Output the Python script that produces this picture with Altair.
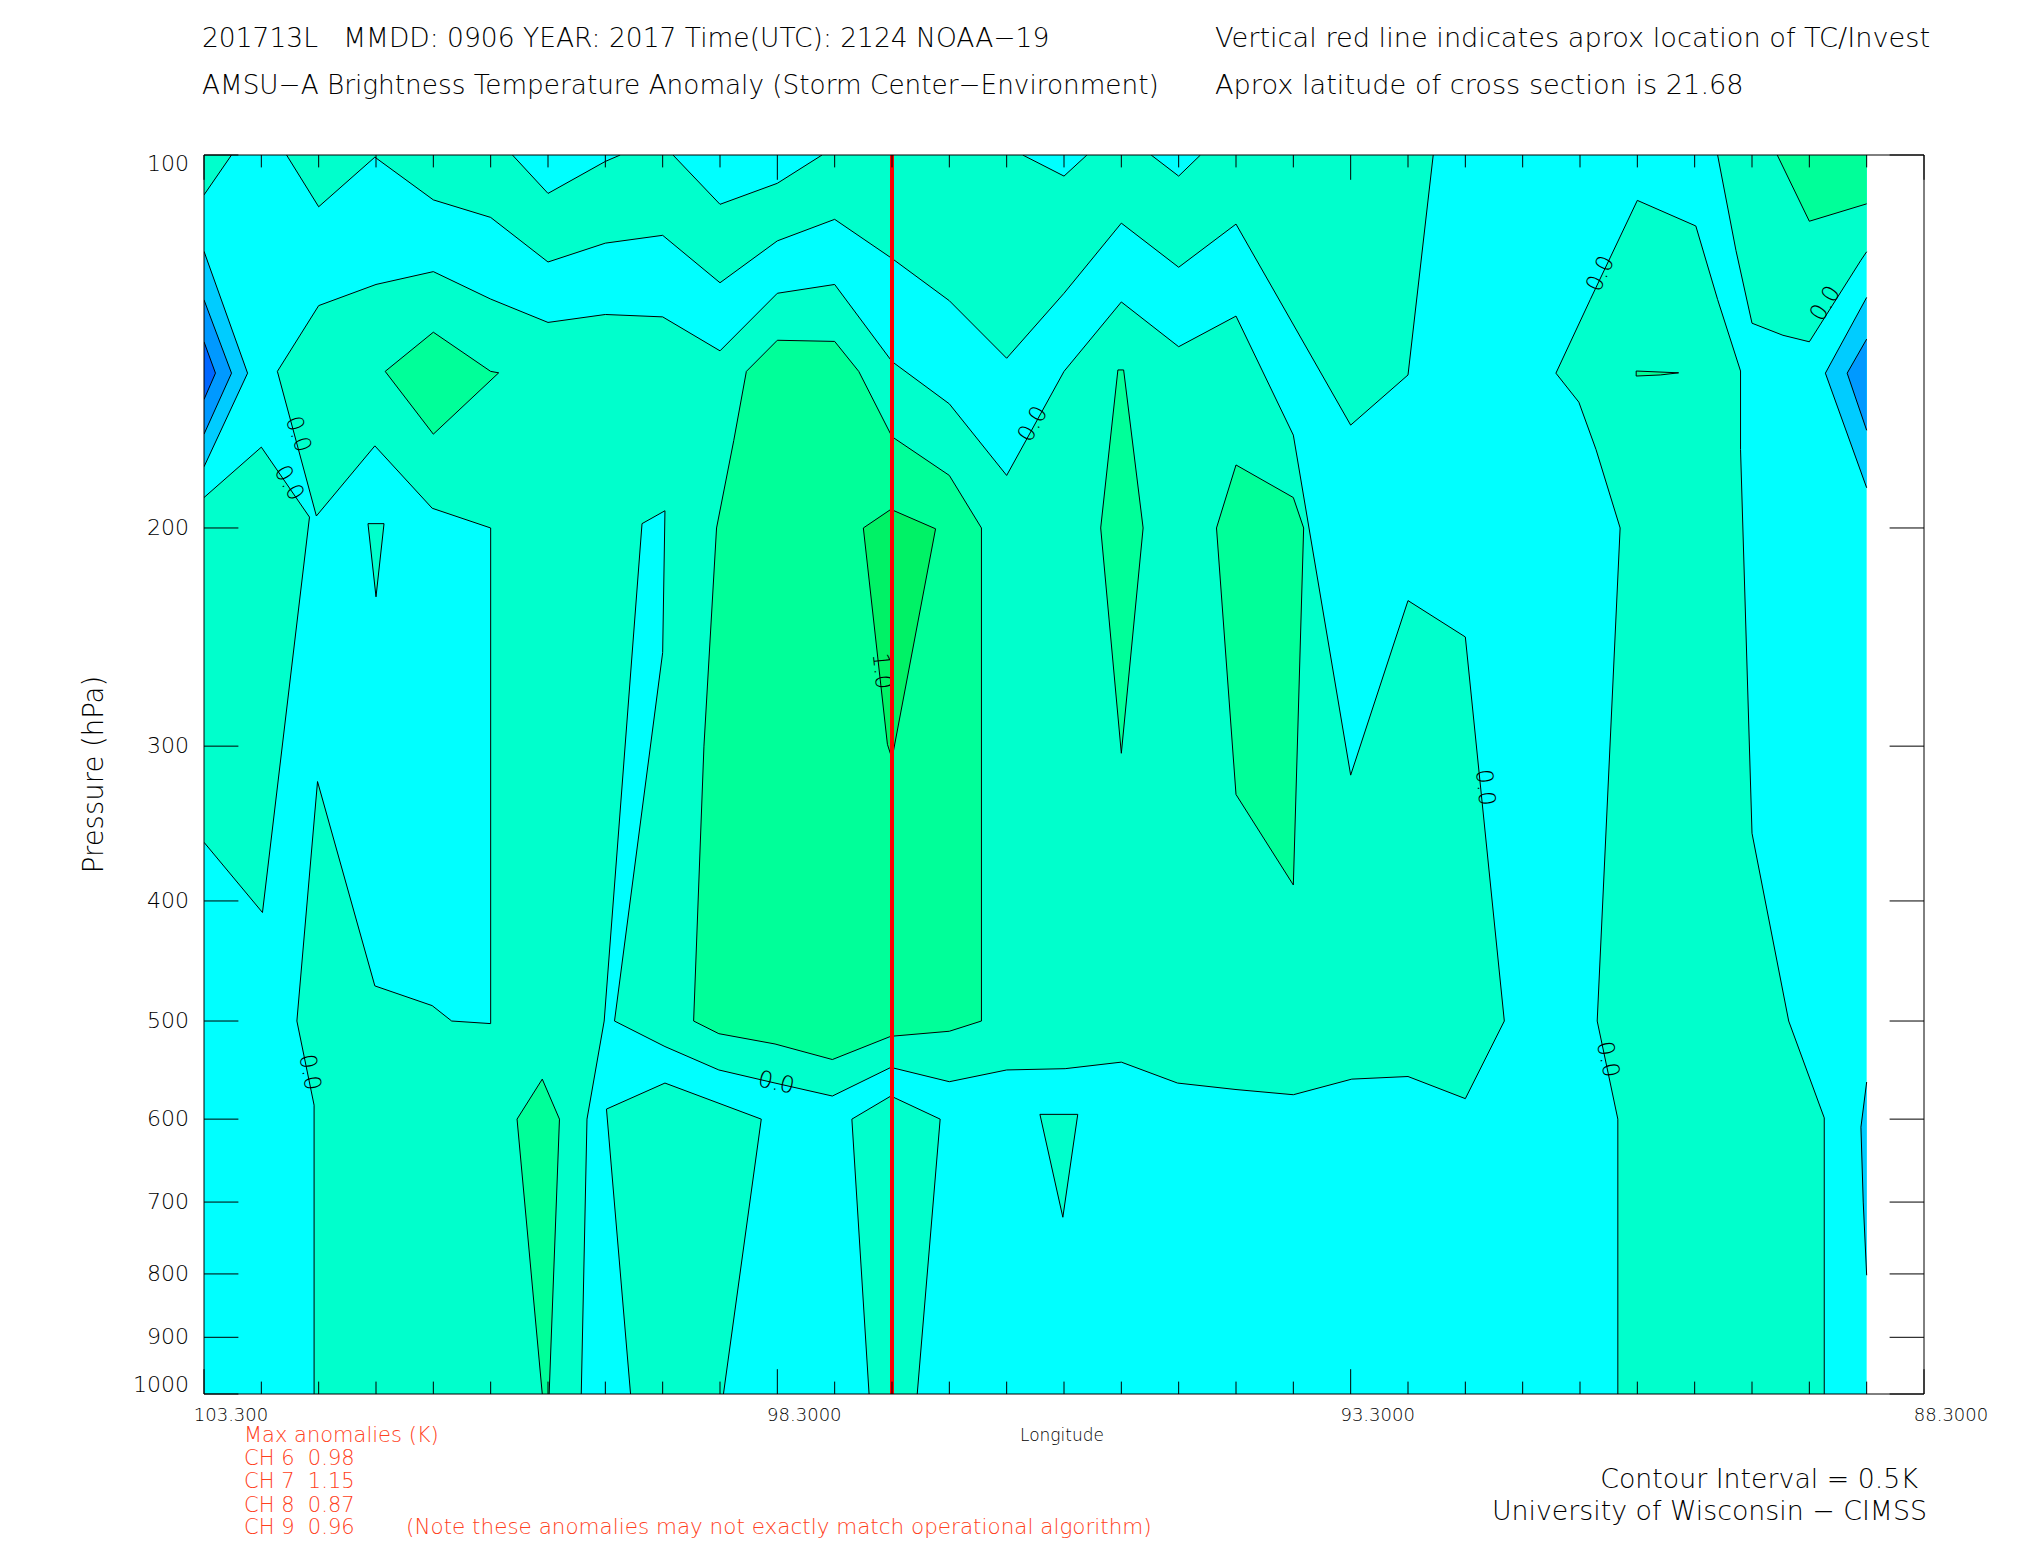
import altair as alt
import pandas as pd

FONT = "DejaVu Sans"
FW = 200
CYAN, AQUA, GREEN1, GREEN2 = "#00FFFF", "#00FFCC", "#00FF99", "#00F266"
BLUE1, BLUE2, BLUE3 = "#00CCFF", "#0099FF", "#0066FF"
ORANGE = "#FF4020"
W, H = 1720, 1239

# ---------------- contour regions (longitude degW, pressure hPa) ----------------
bg_lon = [103.3, 88.8, 88.8, 103.3]
bg_p = [100, 100, 1000, 1000]

b1_lon = [103.3, 102.92, 103.3];  b1_p = [119.6, 150, 178.5]
b2_lon = [103.3, 103.06, 103.3];  b2_p = [130.9, 150, 168.0]
b3_lon = [103.3, 103.2, 103.3];   b3_p = [141.5, 150, 157.5]
br1_lon = [88.8, 89.16, 88.8];    br1_p = [130.3, 150, 185.6]
br2_lon = [88.8, 88.97, 88.8];    br2_p = [140.8, 150, 166.8]
br3_lon = [88.8, 88.85, 88.83, 88.8]; br3_p = [560, 609, 700, 802]

corner_lon = [103.3, 103.06, 103.3]; corner_p = [100, 100, 107.7]
ll_lon = [103.3, 102.8, 102.38, 102.79, 103.3]; ll_p = [189, 172.1, 196, 408.7, 358.7]

body_lon = [102.34, 102.34, 102.49, 102.31, 101.81, 101.31, 101.14, 100.8, 100.8, 101.31,
            101.81, 102.32, 102.66, 102.3, 101.8, 101.3, 100.8, 100.3, 99.8, 99.3,
            98.8, 98.3, 97.8, 97.3, 96.8, 96.3, 95.8, 95.3, 94.8, 94.3,
            93.8, 93.3, 92.8, 92.3, 91.96, 92.3, 92.8, 93.29, 93.8,
            94.3, 94.81, 95.3, 95.79, 96.3, 96.8, 97.31, 97.82, 98.32, 98.81,
            99.28, 99.72, 99.3, 99.28, 99.48, 99.81, 99.96, 100.01]
body_p = [1000, 584.6, 500, 320.4, 468.4, 485.9, 500, 502.4, 200, 192.8,
          171.7, 195.6, 149.5, 132.3, 127.2, 124.2, 130.7, 136.5, 134.5, 135.1,
          143.9, 129.3, 127.2, 146.8, 158.8, 181.4, 149.5, 131.4, 142.8, 134.9,
          168.3, 316.6, 228.9, 244.9, 500, 577.6, 554.3, 557, 573.4,
          567.9, 561.1, 539.7, 546.3, 547.6, 559.7, 545, 574.8, 561.1, 547.6,
          524.3, 500, 252.1, 193.7, 198.4, 500, 600, 1000]

strip_lon = [102.58, 102.3, 101.81, 101.3, 100.8, 100.3, 99.8, 99.3, 98.8, 98.3, 97.8,
             97.3, 96.8, 96.3, 95.8, 95.3, 94.8, 94.3, 93.3, 92.8, 92.58]
strip_p = [100, 110.1, 100.4, 108.7, 112.3, 122.0, 117.8, 116.1, 126.8, 117.3, 112.7,
           121.2, 131.1, 145.9, 129.3, 113.5, 123.2, 113.7, 165.2, 150.5, 100]

n1_lon = [100.61, 100.3, 99.8, 99.67];  n1_p = [100, 107.4, 101.2, 100]
n2_lon = [99.21, 98.8, 98.3, 97.91];    n2_p = [100, 109.6, 105.4, 100]
n3_lon = [96.16, 95.8, 95.6];           n3_p = [100, 104.0, 100]
n4_lon = [95.04, 94.8, 94.61];          n4_p = [100, 104.0, 100]

r1_lon = [90.8, 91.21, 91.51, 91.31, 91.16, 90.95, 91.15, 90.97, 90.97, 89.17, 89.17, 89.48,
          89.8, 89.9, 89.9, 90.1, 90.29]
r1_p = [108.8, 130.8, 150, 158.3, 172.9, 200, 500, 600, 1000, 1000, 598.6, 500,
        352.7, 172.9, 149.4, 130.8, 114.1]
tr_lon = [90.1, 89.94, 89.8, 89.53, 89.3, 88.85, 88.8, 88.8]
tr_p = [100, 119.4, 136.7, 139.8, 141.5, 121.6, 119.7, 100]
trg_lon = [89.58, 89.3, 88.8, 88.8];  trg_p = [100, 113.1, 109.5, 100]

ba1_lon = [99.79, 99.28, 98.44, 98.77, 99.58]; ba1_p = [588.9, 561.1, 600, 1000, 1000]
ba2_lon = [97.65, 97.31, 96.88, 97.08, 97.5];  ba2_p = [600, 574.8, 600, 1000, 1000]
ba3_lon = [96.01, 95.68, 95.81];               ba3_p = [594.7, 594.7, 720]
hs_lon = [101.87, 101.73, 101.8];              hs_p = [198.4, 198.4, 227.3]

g1_lon = [101.72, 101.3, 100.8, 100.73, 101.3]; g1_p = [149.5, 139.0, 149.5, 149.9, 168.0]
g2_lon = [98.57, 98.3, 97.8, 97.59, 97.3, 96.8, 96.52, 96.52, 96.8, 97.31, 97.82, 98.32,
          98.81, 99.03, 98.94, 98.83, 98.68]
g2_p = [149.5, 141.1, 141.4, 149.5, 168.8, 181.4, 200, 500, 509.6, 514.4, 537.1, 521.8,
        511.9, 500, 300, 200, 170]
g4_lon = [95.33, 95.28, 95.11, 95.3, 95.48];  g4_p = [149.1, 149.1, 200, 304, 200]
g5_lon = [94.3, 93.8, 93.71, 93.8, 94.3, 94.47]; g5_p = [177.9, 189, 200, 388.3, 328.2, 200]
g6_lon = [90.81, 90.44, 90.6, 90.81];         g6_p = [149.4, 149.9, 150.5, 150.8]
gs_lon = [100.57, 100.35, 100.2, 100.29, 100.35]; gs_p = [600, 557, 600, 1000, 1000]
g3_lon = [97.55, 97.31, 96.92, 97.30, 97.34]; g3_p = [200, 193.2, 200.3, 307, 299]

regions = [
    ("bg", CYAN, bg_lon, bg_p),
    ("b1", BLUE1, b1_lon, b1_p), ("b2", BLUE2, b2_lon, b2_p), ("b3", BLUE3, b3_lon, b3_p),
    ("br1", BLUE1, br1_lon, br1_p), ("br2", BLUE2, br2_lon, br2_p), ("br3", BLUE1, br3_lon, br3_p),
    ("corner", AQUA, corner_lon, corner_p), ("ll", AQUA, ll_lon, ll_p),
    ("body", AQUA, body_lon, body_p), ("strip", AQUA, strip_lon, strip_p),
    ("n1", CYAN, n1_lon, n1_p), ("n2", CYAN, n2_lon, n2_p), ("n3", CYAN, n3_lon, n3_p),
    ("n4", CYAN, n4_lon, n4_p),
    ("r1", AQUA, r1_lon, r1_p), ("tr", AQUA, tr_lon, tr_p),
    ("ba1", AQUA, ba1_lon, ba1_p), ("ba2", AQUA, ba2_lon, ba2_p), ("ba3", AQUA, ba3_lon, ba3_p),
    ("hs", AQUA, hs_lon, hs_p),
    ("g1", GREEN1, g1_lon, g1_p), ("g2", GREEN1, g2_lon, g2_p), ("g4", GREEN1, g4_lon, g4_p),
    ("g5", GREEN1, g5_lon, g5_p), ("g6", GREEN1, g6_lon, g6_p), ("gs", GREEN1, gs_lon, gs_p),
    ("trg", GREEN1, trg_lon, trg_p),
    ("g3", GREEN2, g3_lon, g3_p),
]

# contour labels
lab_lon = [102.48, 102.56, 102.38, 98.31, 96.07, 97.39, 92.13, 91.12, 89.16, 91.06]
lab_p = [168.0, 184.0, 550, 561, 164.9, 261, 324, 124.7, 131.8, 537]
lab_txt = ["0.0", "0.0", "0.0", "0.0", "0.0", "1.0", "0.0", "0.0", "0.0", "0.0"]
lab_ang = [71, 60, 79, 13, 299, 84, 84, 295, 302, 78]

storm_lon = [97.3]
y_ticks = [100, 200, 300, 400, 500, 600, 700, 800, 900, 1000]
y_labels = ["100", "200", "300", "400", "500", "600", "700", "800", "900", "1000"]
x_major = [103.3, 98.3, 93.3, 88.3]
x_labels = ["103.300", "98.3000", "93.3000", "88.3000"]
x_minor = [102.8, 102.3, 101.8, 101.3, 100.8, 100.3, 99.8, 99.3, 98.8, 97.8, 97.3, 96.8, 96.3,
           95.8, 95.3, 94.8, 94.3, 93.8, 92.8, 92.3, 91.8, 91.3, 90.8, 90.3, 89.8, 89.3, 88.8]

title_left = ["201713L\u00a0\u00a0 MMDD: 0906 YEAR: 2017 Time(UTC): 2124 NOAA\u221219",
              "AMSU\u2212A Brightness Temperature Anomaly (Storm Center\u2212Environment)"]
title_right = ["Vertical red line indicates aprox location of TC/Invest",
               "Aprox latitude of cross section is 21.68"]
anom_lines = ["Max anomalies (K)", "CH 6\u00a0 0.98", "CH 7\u00a0 1.15",
              "CH 8\u00a0 0.87", "CH 9\u00a0 0.96"]
note_text = "(Note these anomalies may not exactly match operational algorithm)"
credit_lines = ["Contour Interval = 0.5K", "University of Wisconsin \u2212 CIMSS"]

# ---------------- build tables ----------------
poly_rows = []
for name, color, lo, pp in regions:
    n = len(lo)
    for i in range(n + 1):
        poly_rows.append({"poly": name, "i": i, "lon": lo[i % n], "p": pp[i % n]})
df_poly = pd.DataFrame(poly_rows)


def on_edge(a, b):
    return (a[0] == b[0] and a[0] in (103.3, 88.8)) or (a[1] == b[1] and a[1] in (100, 1000))


line_rows = []
pid = 0
for name, color, lo, pp in regions:
    if name == "bg":
        continue
    pts = list(zip(lo, pp))
    n = len(pts)
    segs = [(pts[k], pts[(k + 1) % n]) for k in range(n)]
    edge = [on_edge(*s) for s in segs]
    start = edge.index(True) + 1 if any(edge) else 0
    pieces, cur = [], []
    for m in range(n):
        k = (start + m) % n
        a, b = segs[k]
        if edge[k]:
            if cur:
                pieces.append(cur)
            cur = []
        else:
            if not cur:
                cur = [a]
            cur.append(b)
    if cur:
        pieces.append(cur)
    for pc in pieces:
        pid += 1
        for j, pt in enumerate(pc):
            line_rows.append({"lid": pid, "j": j, "lon": pt[0], "p": pt[1]})
df_lines = pd.DataFrame(line_rows)

xscale = alt.Scale(domain=[103.3, 88.3], nice=False, zero=False)
yscale = alt.Scale(type="log", domain=[100, 1000], reverse=True, nice=False)
Xn = alt.X("lon:Q", scale=xscale, axis=None)
Yn = alt.Y("p:Q", scale=yscale, axis=None)

layers = []
for name, color, lo, pp in regions:
    layers.append(
        alt.Chart(df_poly).transform_filter(alt.datum.poly == name)
        .mark_line(fill=color, strokeWidth=0, clip=True)
        .encode(x=Xn, y=Yn, order=alt.Order("i:Q"))
    )

layers.append(
    alt.Chart(df_lines).mark_line(color="black", strokeWidth=1, clip=True)
    .encode(x=Xn, y=Yn, detail="lid:N", order=alt.Order("j:Q"))
)

df_lab = pd.DataFrame({"lon": lab_lon, "p": lab_p, "t": lab_txt, "a": lab_ang})
layers.append(
    alt.Chart(df_lab).mark_text(font=FONT, fontWeight=FW, fontSize=23, color="black",
                                baseline="middle")
    .encode(x=Xn, y=Yn, text="t:N", angle=alt.Angle("a:Q", scale=None))
)

layers.append(
    alt.Chart(pd.DataFrame({"lon": storm_lon})).mark_rule(color="#FF0000", strokeWidth=4)
    .encode(x=Xn)
)

df_yt = pd.DataFrame({"p": y_ticks, "t": y_labels})
layers.append(alt.Chart(df_yt).mark_rule(color="black", strokeWidth=1)
              .encode(y=Yn, x=alt.value(0), x2=alt.value(34.4)))
layers.append(alt.Chart(df_yt).mark_rule(color="black", strokeWidth=1)
              .encode(y=Yn, x=alt.value(W - 34.4), x2=alt.value(W)))
# y tick labels (first and last kept inside the axis range)
for cond, ddy in (("datum.p > 100 && datum.p < 1000", 0), ("datum.p == 100", 9),
                  ("datum.p == 1000", -9)):
    layers.append(
        alt.Chart(df_yt).transform_filter(cond)
        .mark_text(font=FONT, fontWeight=FW, fontSize=22, color="black", align="right",
                   baseline="middle", dy=ddy)
        .encode(y=Yn, x=alt.value(-15), text="t:N")
    )

df_xM = pd.DataFrame({"lon": x_major, "t": x_labels})
df_xm = pd.DataFrame({"lon": x_minor})
for d, ln in ((df_xM, 24.8), (df_xm, 12.4)):
    layers.append(alt.Chart(d).mark_rule(color="black", strokeWidth=1)
                  .encode(x=Xn, y=alt.value(H - ln), y2=alt.value(H)))
    layers.append(alt.Chart(d).mark_rule(color="black", strokeWidth=1)
                  .encode(x=Xn, y=alt.value(0), y2=alt.value(ln)))

layers.append(
    alt.Chart(df_xM).mark_text(font=FONT, fontWeight=FW, fontSize=18, color="black",
                               baseline="top", align="center", dx=27)
    .encode(x=Xn, y=alt.value(H + 12.5), text="t:N")
)

layers.append(
    alt.Chart(pd.DataFrame({"a": [0]})).mark_rect(fillOpacity=0, stroke="black", strokeWidth=1)
    .encode(x=alt.value(0), x2=alt.value(W), y=alt.value(0), y2=alt.value(H))
)


def txt(s, x, y, size, color="black", align="left", angle=0, baseline="alphabetic"):
    return alt.Chart(pd.DataFrame({"t": [s]})).mark_text(
        font=FONT, fontWeight=FW, fontSize=size, color=color, align=align, angle=angle,
        baseline=baseline
    ).encode(text="t:N", x=alt.value(x), y=alt.value(y))


layers.append(txt(title_left[0], -2, -108.3, 26.5))
layers.append(txt(title_left[1], -2, -60.7, 26.3))
layers.append(txt(title_right[0], 1011, -108.3, 27.2))
layers.append(txt(title_right[1], 1011, -61.5, 27.2))
layers.append(txt("Pressure (hPa)", -109, 619.5, 27.5, align="center", angle=270,
                  baseline="middle"))
layers.append(txt("Longitude", 858, 1286, 17, align="center"))
anom_y = [1287, 1310, 1333, 1357, 1379]
for s, yy in zip(anom_lines, anom_y):
    layers.append(txt(s, 40, yy, 21, color=ORANGE))
layers.append(txt(note_text, 202, 1379, 21.5, color=ORANGE))
layers.append(txt(credit_lines[0], 1714, 1333, 26.8, align="right"))
layers.append(txt(credit_lines[1], 1723, 1365, 26.8, align="right"))

chart = alt.layer(*layers).properties(
    width=W, height=H,
    padding={"left": 196, "top": 147, "right": 81, "bottom": 150},
    autosize=alt.AutoSizeParams(type="none"),
    background="white",
).configure_view(stroke=None)

chart.save("out.html", embed_options={"renderer": "svg", "actions": False})
